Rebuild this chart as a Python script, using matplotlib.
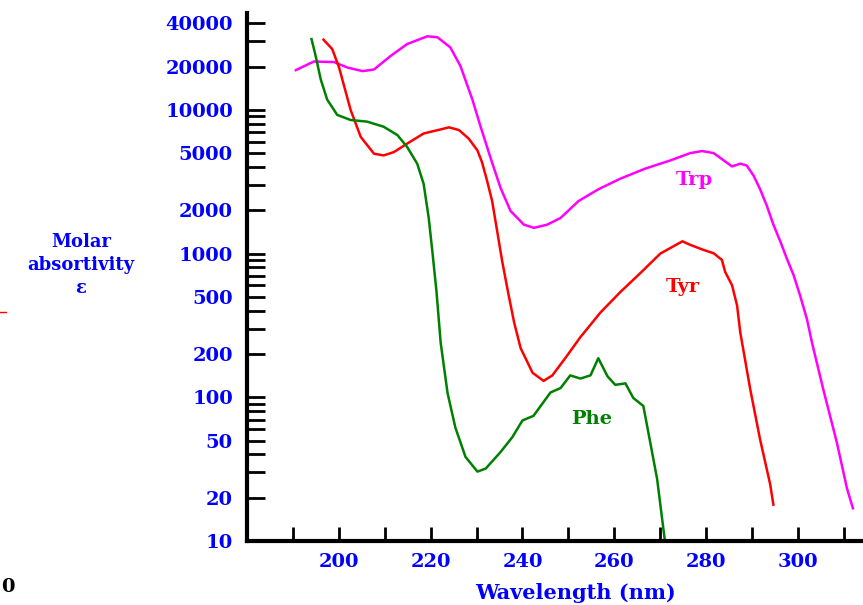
import matplotlib
matplotlib.use("Agg")
import matplotlib.pyplot as plt
from matplotlib.ticker import FixedLocator, FixedFormatter, NullFormatter
from matplotlib.lines import Line2D

# ── Data ──────────────────────────────────────────────────────────────────────
trp_nm = [190.7, 194.6, 199.0, 201.9, 205.2, 207.7, 211.3, 214.9, 219.3, 221.5,
          224.3, 226.5, 229.1, 230.9, 233.0, 235.2, 237.4, 240.3, 242.5, 245.4,
          248.3, 252.2, 256.5, 261.3, 266.7, 272.2, 276.5, 279.1, 281.6, 283.8,
          285.6, 287.4, 288.8, 290.3, 291.7, 293.2, 294.6, 296.1, 297.5, 299.0,
          300.4, 301.9, 303.0, 305.5, 308.4, 310.6, 311.9]
trp_eps = [18900, 21700, 21500, 19700, 18600, 19100, 23700, 28700, 32500, 32000,
           27200, 20200, 11800, 7620, 4690, 2880, 1980, 1590, 1510, 1590,
           1770, 2320, 2800, 3320, 3900, 4450, 5000, 5170, 5000, 4450,
           4040, 4220, 4100, 3480, 2810, 2140, 1590, 1216, 927, 708,
           512, 350, 240, 112, 48.6, 23.3, 16.9]

tyr_nm = [196.7, 198.6, 200.1, 201.2, 202.6, 204.8, 207.7, 209.8, 212.0, 214.9,
          218.5, 222.2, 224.0, 226.2, 228.3, 230.2, 231.2, 232.3, 233.4, 234.5,
          235.6, 237.0, 238.2, 239.6, 242.2, 244.6, 246.5, 249.3, 252.6, 257.0,
          261.3, 265.7, 270.0, 274.8, 276.5, 279.4, 281.6, 283.4, 284.1, 285.6,
          286.7, 287.4, 289.6, 291.7, 293.9, 294.6]
tyr_eps = [30800, 26500, 19700, 14600, 10000, 6490, 4950, 4820, 5080, 5820,
           6850, 7310, 7560, 7230, 6310, 5220, 4320, 3210, 2320, 1430,
           879, 512, 330, 220, 148, 130, 142, 187, 262, 390,
           540, 734, 1000, 1217, 1150, 1060, 1005, 903, 746, 602,
           435, 282, 112, 51, 24.8, 17.9]

phe_nm = [194.1, 195.0, 196.1, 197.5, 199.7, 202.6, 206.2, 209.8, 212.8, 214.9,
          217.1, 218.5, 219.6, 220.4, 221.3, 222.2, 223.7, 225.4, 227.6, 230.2,
          232.0, 235.2, 237.8, 240.0, 242.4, 246.1, 248.3, 250.4, 252.6, 254.8,
          256.5, 258.5, 260.2, 262.4, 264.1, 266.3, 267.8, 269.3, 271.1]
phe_eps = [31100, 23700, 16300, 11800, 9220, 8500, 8280, 7630, 6670, 5520,
           4220, 3050, 1770, 1030, 540, 240, 107, 61.5, 38.5, 30.4,
           31.9, 41.5, 52.8, 69, 74.3, 108, 116, 142, 135, 142,
           187, 140, 122, 125, 99, 87, 48.6, 27, 9.4]

y_labels = [10, 20, 50, 100, 200, 500, 1000, 2000, 5000, 10000, 20000, 40000]
x_labels = [200, 220, 240, 260, 280, 300]

BLUE = "#0000ff"
font = dict(family="DejaVu Serif", weight="bold")

fig = plt.figure(figsize=(8.63, 6.05), dpi=100)
ax = fig.add_axes([0.2859, 0.1058, 0.7141, 0.8727])

ax.plot(trp_nm, trp_eps, color="#ff00ff", lw=1.8)
ax.plot(tyr_nm, tyr_eps, color="#ff0000", lw=1.8)
ax.plot(phe_nm, phe_eps, color="#008000", lw=1.8)

ax.set_yscale("log")
ax.set_xlim(180, 314.1)
ax.set_ylim(10, 47200)

# y ticks: labelled majors + unlabelled log minors
minor_y = [m * 10 ** d for d in range(1, 5) for m in range(1, 10)]
minor_y = [v for v in minor_y if v not in y_labels and v < 47200]
ax.yaxis.set_major_locator(FixedLocator(y_labels))
ax.yaxis.set_major_formatter(FixedFormatter([str(v) for v in y_labels]))
ax.yaxis.set_minor_locator(FixedLocator(minor_y))
ax.yaxis.set_minor_formatter(NullFormatter())

ax.xaxis.set_major_locator(FixedLocator(x_labels))
ax.xaxis.set_major_formatter(FixedFormatter([str(v) for v in x_labels]))
ax.xaxis.set_minor_locator(FixedLocator(list(range(190, 320, 20))))

ax.tick_params(axis="y", which="both", direction="in", length=13, width=2,
               pad=10, labelcolor=BLUE, labelsize=14)
ax.tick_params(axis="x", which="both", direction="in", length=10, width=2,
               pad=9, labelcolor=BLUE, labelsize=14)
for lab in ax.get_xticklabels() + ax.get_yticklabels():
    lab.set_fontfamily("DejaVu Serif")
    lab.set_fontweight("bold")

for side in ["top", "right"]:
    ax.spines[side].set_visible(False)
for side in ["left", "bottom"]:
    ax.spines[side].set_linewidth(3)

# curve labels
ax.text(277.4, 3270, "Trp", color="#ff00ff", ha="center", va="center", size=14, **font)
ax.text(274.8, 586, "Tyr", color="#ff0000", ha="center", va="center", size=14, **font)
ax.text(255.0, 71, "Phe", color="#008000", ha="center", va="center", size=14, **font)

# axis titles
fig.text(575 / 863, 2 / 605, "Wavelength (nm)", color=BLUE, ha="center",
         va="bottom", size=15, **font)
fig.text(81 / 863, 1 - 265 / 605, "Molar\nabsortivity\nε", color=BLUE, ha="center",
         va="center", size=13, linespacing=1.35, **font)

# leftover bits at the slide edge
fig.text(8 / 863, 1 - 587 / 605, "0", color="black", ha="center", va="center",
         size=14, **font)
fig.add_artist(Line2D([0, 6 / 863], [1 - 312 / 605] * 2, color="red", lw=1))

fig.savefig("out.png", dpi=100)
